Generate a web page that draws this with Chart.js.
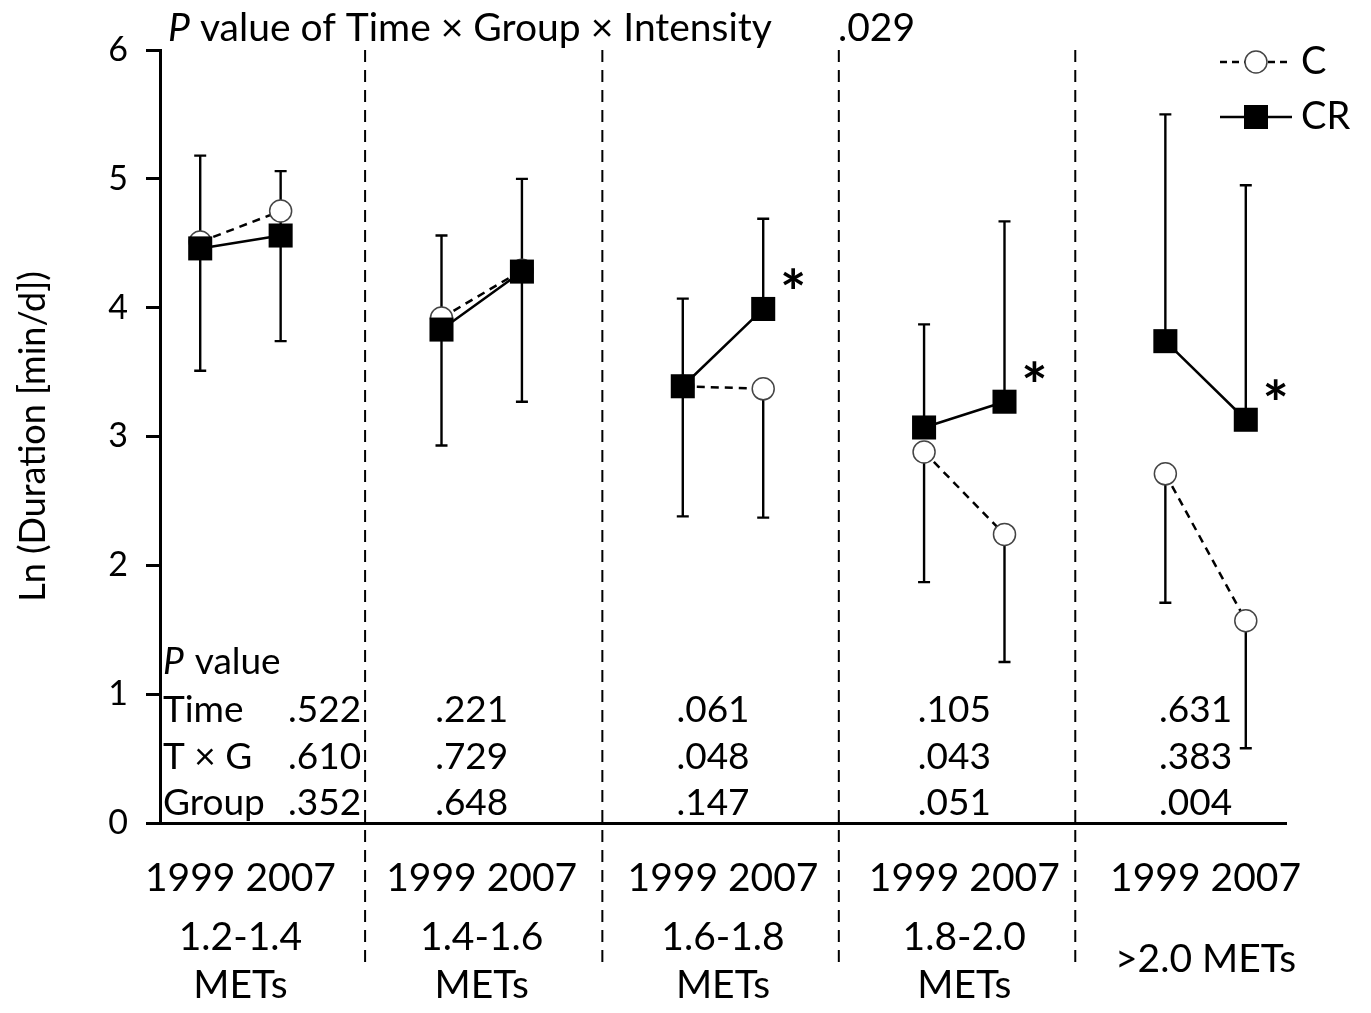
<!DOCTYPE html>
<html>
<head>
<meta charset="utf-8">
<script src="https://cdn.jsdelivr.net/npm/chart.js@4"></script>
<style>
  body { margin: 0; background: #fff; }
  #wrap { width: 1371px; height: 1013px; }
</style>
</head>
<body>
<div id="wrap"><canvas id="chart" width="1371" height="1013"></canvas></div>
<script>
// categories
const years = ['1999', '2007'];
const intensities = [['1.2-1.4', 'METs'], ['1.4-1.6', 'METs'], ['1.6-1.8', 'METs'], ['1.8-2.0', 'METs'], ['>2.0 METs']];

// means (ln min/d), order: group1 1999, group1 2007, group2 1999, ...
const cMean  = [4.51, 4.75, 3.92, 4.29, 3.39, 3.37, 2.88, 2.24, 2.71, 1.57];
const crMean = [4.46, 4.56, 3.83, 4.28, 3.39, 3.99, 3.07, 3.27, 3.74, 3.13];
// error bar ends: CR upward, C downward
const crUpper = [5.18, 5.06, 4.56, 5.00, 4.07, 4.69, 3.87, 4.67, 5.50, 4.95];
const cLower  = [3.51, 3.74, 2.93, 3.27, 2.38, 2.37, 1.87, 1.25, 1.71, 0.58];
const significant = [false, false, false, false, false, true, false, true, false, true];

// P values table
const rowLabels = ['Time', 'T \u00d7 G', 'Group'];
const pTime  = ['.522', '.221', '.061', '.105', '.631'];
const pTxG   = ['.610', '.729', '.048', '.043', '.383'];
const pGroup = ['.352', '.648', '.147', '.051', '.004'];
const pInteraction = '.029';

const yTicks = [0, 1, 2, 3, 4, 5, 6];
const separators = [2.05, 5.0, 7.94, 10.88];

const FONT = 'Lato, "Open Sans", sans-serif';

// x position: each group takes 3 slots (1999, 2007, blank)
function buildSeries(values) {
    const pts = [];
    intensities.forEach((_, g) => {
        years.forEach((_, k) => pts.push({ x: g * 3 + k, y: values[g * 2 + k] }));
        pts.push({ x: g * 3 + 2, y: null });
    });
    return pts;
}
function xOf(i) { return Math.floor(i / 2) * 3 + (i % 2); }

const overlay = {
    id: 'overlay',
    beforeDatasetsDraw(chart) {
        const { ctx, chartArea, scales: { x, y } } = chart;
        ctx.save();
        // dashed group separators
        ctx.strokeStyle = '#000';
        ctx.lineWidth = 2;
        ctx.setLineDash([12, 8]);
        separators.forEach(s => {
            const px = x.getPixelForValue(s);
            ctx.beginPath();
            ctx.moveTo(px, chartArea.top);
            ctx.lineTo(px, chartArea.bottom + 142);
            ctx.stroke();
        });
        ctx.setLineDash([]);
        // error bars
        ctx.lineWidth = 2.4;
        const cap = 6;
        cMean.forEach((_, i) => {
            const px = x.getPixelForValue(xOf(i));
            const top = y.getPixelForValue(crUpper[i]);
            const bot = y.getPixelForValue(cLower[i]);
            ctx.beginPath();
            ctx.moveTo(px, y.getPixelForValue(crMean[i]));
            ctx.lineTo(px, top);
            ctx.moveTo(px - cap, top);
            ctx.lineTo(px + cap, top);
            ctx.moveTo(px, y.getPixelForValue(cMean[i]));
            ctx.lineTo(px, bot);
            ctx.moveTo(px - cap, bot);
            ctx.lineTo(px + cap, bot);
            ctx.stroke();
        });
        ctx.restore();
    },
    afterDraw(chart) {
        const { ctx, chartArea, scales: { x, y } } = chart;
        ctx.save();
        ctx.fillStyle = '#000';
        ctx.textBaseline = 'middle';

        // title line
        ctx.font = 'italic 39px ' + FONT;
        ctx.textAlign = 'left';
        ctx.fillText('P', 168, 28);
        const pw = ctx.measureText('P').width;
        ctx.font = '39px ' + FONT;
        ctx.fillText(' value of Time \u00d7 Group \u00d7 Intensity', 168 + pw, 28);
        ctx.fillText(pInteraction, 838, 28);

        // asterisks
        ctx.font = 'bold 62px ' + FONT;
        ctx.textAlign = 'center';
        significant.forEach((s, i) => {
            if (!s) return;
            ctx.fillText('*', x.getPixelForValue(xOf(i)) + 30, y.getPixelForValue(crMean[i]) - 14);
        });

        // P value table
        const rowsY = [chartArea.bottom - 113, chartArea.bottom - 66, chartArea.bottom - 20];
        ctx.textAlign = 'left';
        ctx.font = 'italic 37px ' + FONT;
        ctx.fillText('P', 163, chartArea.bottom - 161);
        ctx.font = '37px ' + FONT;
        ctx.fillText(' value', 163 + ctx.measureText('P').width, chartArea.bottom - 161);
        rowLabels.forEach((r, k) => ctx.fillText(r, 163, rowsY[k]));
        [pTime, pTxG, pGroup].forEach((row, k) => {
            row.forEach((v, g) => {
                if (g === 0) {
                    ctx.textAlign = 'right';
                    ctx.fillText(v, x.getPixelForValue(separators[0]) - 4, rowsY[k]);
                } else {
                    ctx.textAlign = 'center';
                    ctx.fillText(v, x.getPixelForValue(g * 3 + 0.5) - 10, rowsY[k]);
                }
            });
        });

        // x labels
        ctx.textAlign = 'center';
        ctx.font = '39px ' + FONT;
        intensities.forEach((lab, g) => {
            const cx = x.getPixelForValue(g * 3 + 0.5);
            ctx.fillText(years.join(' '), cx, chartArea.bottom + 55);
            if (lab.length === 2) {
                ctx.fillText(lab[0], cx, chartArea.bottom + 114);
                ctx.fillText(lab[1], cx, chartArea.bottom + 162);
            } else {
                ctx.fillText(lab[0], cx, chartArea.bottom + 136);
            }
        });

        // legend
        const lx = 1220, lw = 72;
        ctx.strokeStyle = '#000';
        ctx.lineWidth = 2.5;
        ctx.setLineDash([7, 5]);
        ctx.beginPath(); ctx.moveTo(lx, 62); ctx.lineTo(lx + lw, 62); ctx.stroke();
        ctx.setLineDash([]);
        ctx.beginPath(); ctx.arc(lx + lw / 2, 62, 11, 0, Math.PI * 2);
        ctx.fillStyle = '#fff'; ctx.fill();
        ctx.lineWidth = 1.5; ctx.strokeStyle = '#444'; ctx.stroke();
        ctx.strokeStyle = '#000'; ctx.lineWidth = 2.5;
        ctx.beginPath(); ctx.moveTo(lx, 117); ctx.lineTo(lx + lw, 117); ctx.stroke();
        ctx.fillStyle = '#000';
        ctx.fillRect(lx + lw / 2 - 12, 117 - 12, 24, 24);
        ctx.font = '38px ' + FONT;
        ctx.textAlign = 'left';
        ctx.fillText('C', 1301, 62);
        ctx.fillText('CR', 1301, 117);
        ctx.restore();
    }
};

new Chart(document.getElementById('chart'), {
    type: 'line',
    data: {
        datasets: [{
            label: 'CR',
            data: buildSeries(crMean),
            borderColor: '#000',
            borderWidth: 2.5,
            pointStyle: 'rect',
            pointRadius: 17,
            pointBackgroundColor: '#000',
            pointBorderColor: '#000',
            pointBorderWidth: 0,
            spanGaps: false,
            order: 0
        }, {
            label: 'C',
            data: buildSeries(cMean),
            borderColor: '#000',
            borderWidth: 2.5,
            borderDash: [8, 6],
            pointStyle: 'circle',
            pointRadius: 11,
            pointBackgroundColor: '#fff',
            pointBorderColor: '#444',
            pointBorderWidth: 1.5,
            spanGaps: false,
            order: 1
        }]
    },
    options: {
        responsive: false,
        animation: false,
        layout: { padding: { left: 0, right: 85, top: 50, bottom: 190 } },
        plugins: { legend: { display: false }, tooltip: { enabled: false } },
        scales: {
            x: {
                type: 'linear',
                min: -0.5,
                max: 13.5,
                ticks: { display: false },
                grid: { display: false, drawTicks: false },
                border: { color: '#000', width: 3 },
                afterFit: s => { s.height = 0; }
            },
            y: {
                min: 0,
                max: 6,
                afterBuildTicks: s => { s.ticks = yTicks.map(v => ({ value: v })); },
                ticks: { color: '#000', font: { family: FONT, size: 34 }, padding: 18 },
                grid: { drawOnChartArea: false, tickLength: 14, tickColor: '#000', tickWidth: 3 },
                border: { color: '#000', width: 3 },
                title: {
                    display: true,
                    text: 'Ln (Duration [min/d])',
                    color: '#000',
                    font: { family: FONT, size: 36 },
                    padding: { top: 12, bottom: 0 }
                },
                afterFit: s => { s.width = 160; }
            }
        }
    },
    plugins: [overlay]
});
</script>
</body>
</html>
